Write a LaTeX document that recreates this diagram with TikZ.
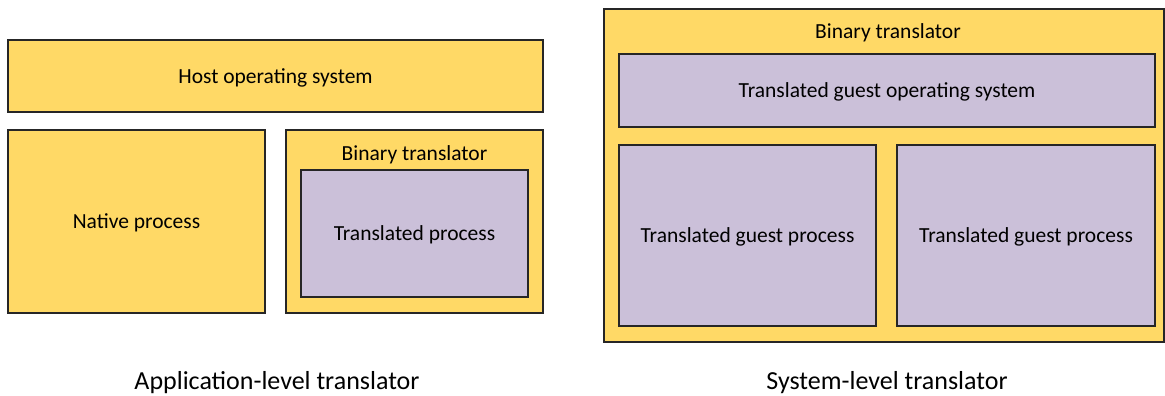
\documentclass[tikz,border=0pt]{standalone}
\usepackage{fontspec}
\setmainfont{Carlito}
\usepackage{xcolor}
\usetikzlibrary{positioning}
\definecolor{hostyellow}{HTML}{FFD966}
\definecolor{guestlilac}{HTML}{CBC0D9}

\begin{document}
\begin{tikzpicture}[x=1pt, y=-1pt,
    boxfont/.style={font=\fontsize{21.5}{25}\selectfont},
    layerbox/.style={draw=black!85, line width=1.2pt, fill=hostyellow, inner sep=0pt,
                     text depth=0pt, boxfont},
    guestbox/.style={layerbox, fill=guestlilac},
    caption/.style={font=\fontsize{26}{30}\selectfont}]
  \useasboundingbox (0,0) rectangle (1165,396);
  % application-level side
  \node[layerbox, minimum width=535pt, minimum height=72pt] (hostos) at (275.5,76) {Host operating system};
  \node[layerbox, minimum width=257pt, minimum height=183pt] (native) at (136.5,221.5) {Native process};
  \node[layerbox, minimum width=257pt, minimum height=183pt] (appbt) at (414.5,221.5) {};
  \node[boxfont, below=16pt of appbt.north, inner sep=0pt] (appbtlabel) {Binary translator};
  \node[guestbox, minimum width=227pt, minimum height=127pt] (transproc) at (414.5,233.5) {Translated process};
  % system-level side
  \node[layerbox, minimum width=560pt, minimum height=333pt] (sysbt) at (884,175.5) {};
  \node[boxfont, below=15pt of sysbt.north, xshift=4pt, inner sep=0pt] (sysbtlabel) {Binary translator};
  \node[guestbox, minimum width=536pt, minimum height=73pt] (guestos) at (887,90.5) {Translated guest operating system};
  \node[guestbox, minimum width=257pt, minimum height=181pt] (guestp1) at (747.5,235.5) {Translated guest process};
  \node[guestbox, minimum width=258pt, minimum height=181pt] (guestp2) at (1026,235.5) {Translated guest process};
  % captions
  \node[caption] (appcap) at (277,383) {Application-level translator};
  \node[caption] (syscap) at (887,383) {System-level translator};
\end{tikzpicture}
\end{document}
